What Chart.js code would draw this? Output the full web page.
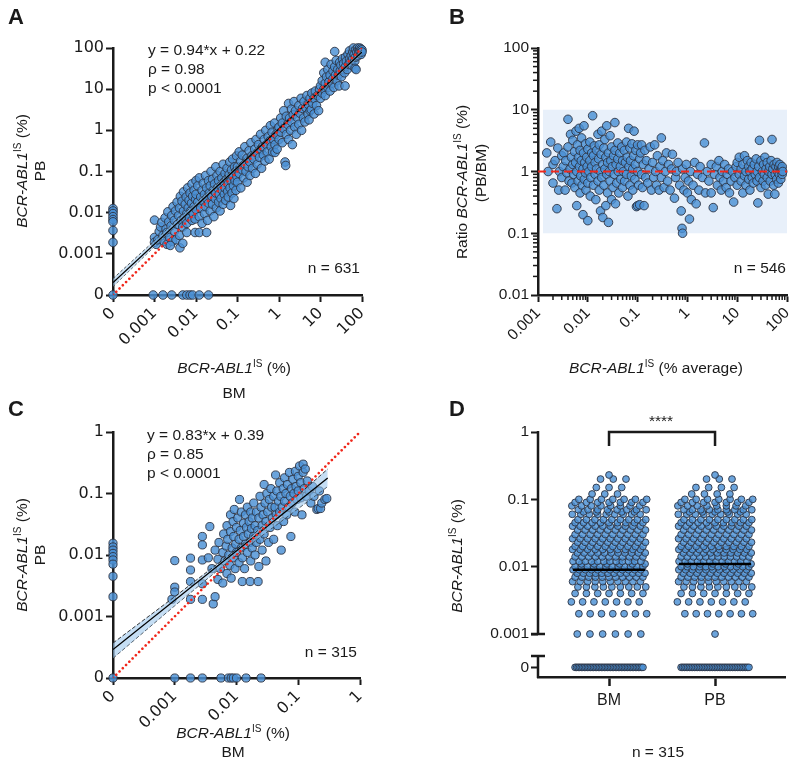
<!DOCTYPE html>
<html>
<head>
<meta charset="utf-8">
<script src="https://cdn.jsdelivr.net/npm/chart.js@4.4.1/dist/chart.umd.min.js"></script>
<style>
  body { margin:0; width:800px; height:766px; position:relative; background:#fff; overflow:hidden;
         font-family:"Liberation Sans", Arial, sans-serif; color:#1a1a1a; }
  canvas { position:absolute; }
  .lbl { position:absolute; white-space:nowrap; font-size:15.5px; line-height:1; }
  .c { transform:translate(-50%,-50%); }
  .l { transform:translate(0,-50%); }
  .r { transform:translate(-100%,-50%); }
  .v { transform:translate(-50%,-50%) rotate(-90deg); }
  .panel { font-weight:bold; font-size:22px; }
  sup { font-size:10px; vertical-align:6px; line-height:0; }
</style>
</head>
<body>
<canvas id="cA" width="400" height="383" style="left:0;top:0"></canvas>
<canvas id="cB" width="400" height="383" style="left:400px;top:0"></canvas>
<canvas id="cC" width="400" height="383" style="left:0;top:383px"></canvas>
<canvas id="cD" width="400" height="383" style="left:400px;top:383px"></canvas>

<!-- panel A texts -->
<div class="lbl c panel" style="left:16px;top:17px">A</div>
<div class="lbl v" style="left:22px;top:171px"><i>BCR-ABL1</i><sup>IS</sup> (%)</div>
<div class="lbl v" style="left:40px;top:171px">PB</div>
<div class="lbl c" style="left:234px;top:368px"><i>BCR-ABL1</i><sup>IS</sup> (%)</div>
<div class="lbl c" style="left:234px;top:393px">BM</div>
<div class="lbl l" style="left:148px;top:50px">y = 0.94*x + 0.22</div>
<div class="lbl l" style="left:148px;top:69px">ρ = 0.98</div>
<div class="lbl l" style="left:148px;top:88px">p &lt; 0.0001</div>
<div class="lbl r" style="left:360px;top:268px">n = 631</div>

<!-- panel B texts -->
<div class="lbl c panel" style="left:457px;top:17px">B</div>
<div class="lbl v" style="left:462px;top:182px">Ratio <i>BCR-ABL1</i><sup>IS</sup> (%)</div>
<div class="lbl v" style="left:481px;top:173px">(PB/BM)</div>
<div class="lbl c" style="left:656px;top:368px"><i>BCR-ABL1</i><sup>IS</sup> (% average)</div>
<div class="lbl r" style="left:786px;top:268px">n = 546</div>

<!-- panel C texts -->
<div class="lbl c panel" style="left:16px;top:409px">C</div>
<div class="lbl v" style="left:22px;top:555px"><i>BCR-ABL1</i><sup>IS</sup> (%)</div>
<div class="lbl v" style="left:40px;top:555px">PB</div>
<div class="lbl c" style="left:233px;top:733px"><i>BCR-ABL1</i><sup>IS</sup> (%)</div>
<div class="lbl c" style="left:233px;top:752px">BM</div>
<div class="lbl l" style="left:147px;top:435px">y = 0.83*x + 0.39</div>
<div class="lbl l" style="left:147px;top:454px">ρ = 0.85</div>
<div class="lbl l" style="left:147px;top:473px">p &lt; 0.0001</div>
<div class="lbl r" style="left:357px;top:652px">n = 315</div>

<!-- panel D texts -->
<div class="lbl c panel" style="left:457px;top:409px">D</div>
<div class="lbl v" style="left:457px;top:556px"><i>BCR-ABL1</i><sup>IS</sup> (%)</div>
<div class="lbl c" style="left:661px;top:421px">****</div>
<div class="lbl c" style="left:658px;top:752px">n = 315</div>

<script>
// ---------- data ----------
// A: BCR-ABL1 IS (%) in BM (x) vs PB (y); 0 = undetectable
const aPairs = [
  [0,0.0126],[0,0.011],[0,0.0095],[0,0.008],[0,0.0068],[0,0.006],[0,0.0037],[0,0.0019],[0,0],
  [0.00093,0],[0.0016,0],[0.0026,0],[0.0048,0],[0.006,0],[0.0072,0],[0.0083,0],[0.012,0],[0.02,0],
  [0.001,0.0066],[0.001,0.0025],[0.001,0.0019],[0.0011,0.0017],[0.0012,0.0022],[0.0013,0.0035],[0.0014,0.0045],
  [0.0015,0.0058],[0.0016,0.0028],[0.0017,0.002],[0.0018,0.0075],[0.0019,0.004],[0.002,0.0033],[0.002,0.0017],
  [0.0021,0.0105],[0.0022,0.006],[0.0023,0.0025],[0.0025,0.0048],[0.0026,0.0085],[0.0027,0.002],[0.0028,0.014],
  [0.003,0.0035],[0.003,0.0065],[0.0032,0.011],[0.0033,0.0022],[0.0035,0.018],[0.0036,0.0052],[0.0038,0.0085],
  [0.004,0.013],[0.004,0.0028],[0.0042,0.025],[0.0044,0.0065],[0.0046,0.019],[0.0048,0.0045],[0.005,0.032],
  [0.005,0.011],[0.0052,0.0075],[0.0055,0.016],[0.0058,0.024],[0.006,0.0095],[0.006,0.0055],[0.0063,0.04],
  [0.0065,0.013],[0.0068,0.02],[0.007,0.0075],[0.0072,0.03],[0.0075,0.011],[0.0078,0.017],[0.008,0.05],
  [0.008,0.0065],[0.0083,0.025],[0.0086,0.0095],[0.009,0.014],[0.009,0.035],[0.0095,0.007],[0.0098,0.021],
  [0.0041,0.0014],[0.0048,0.0018],[0.0024,0.0016],[0.006,0.0033],[0.0095,0.0033],[0.012,0.0033],[0.018,0.0033],
  [0.01,0.06],[0.01,0.012],[0.01,0.028],[0.011,0.018],[0.011,0.045],[0.012,0.008],[0.012,0.07],[0.013,0.024],
  [0.013,0.013],[0.014,0.035],[0.014,0.0055],[0.015,0.052],[0.015,0.019],[0.016,0.0095],[0.016,0.028],
  [0.017,0.08],[0.017,0.014],[0.018,0.04],[0.018,0.022],[0.019,0.0065],[0.02,0.017],[0.02,0.06],[0.021,0.03],
  [0.022,0.011],[0.022,0.045],[0.023,0.1],[0.024,0.025],[0.025,0.016],[0.025,0.065],[0.026,0.035],[0.027,0.008],
  [0.028,0.05],[0.029,0.022],[0.03,0.13],[0.03,0.03],[0.031,0.013],[0.032,0.08],[0.033,0.04],[0.035,0.018],
  [0.035,0.06],[0.036,0.028],[0.038,0.1],[0.038,0.011],[0.04,0.045],[0.04,0.022],[0.042,0.07],[0.043,0.035],
  [0.045,0.15],[0.045,0.016],[0.047,0.055],[0.048,0.028],[0.05,0.09],[0.05,0.04],[0.052,0.02],[0.055,0.065],
  [0.056,0.12],[0.058,0.033],[0.06,0.05],[0.06,0.024],[0.063,0.085],[0.065,0.17],[0.066,0.04],[0.068,0.015],
  [0.07,0.06],[0.072,0.11],[0.074,0.03],[0.076,0.2],[0.078,0.075],[0.08,0.045],[0.082,0.022],[0.085,0.13],
  [0.087,0.06],[0.09,0.1],[0.092,0.035],[0.095,0.24],[0.097,0.075],
  [0.1,0.13],[0.1,0.055],[0.11,0.3],[0.11,0.09],[0.12,0.18],[0.12,0.04],[0.13,0.11],[0.13,0.25],[0.14,0.07],
  [0.15,0.15],[0.15,0.4],[0.16,0.1],[0.17,0.21],[0.17,0.055],[0.18,0.13],[0.19,0.32],[0.2,0.17],[0.2,0.08],
  [0.21,0.5],[0.22,0.24],[0.23,0.12],[0.25,0.2],[0.26,0.35],[0.27,0.09],[0.28,0.6],[0.3,0.28],[0.3,0.15],
  [0.32,0.45],[0.34,0.22],[0.36,0.8],[0.37,0.35],[0.38,0.12],[0.4,0.4],[0.42,0.25],[0.44,0.6],[0.46,0.18],
  [0.48,1.0],[0.5,0.45],[0.52,0.3],[0.55,0.7],[0.58,0.2],[0.6,0.55],[0.62,1.3],[0.65,0.4],[0.68,0.9],[0.7,0.3],
  [0.74,0.6],[0.78,1.5],[0.8,0.45],[0.8,0.29],[0.85,0.8],[0.9,0.35],[0.95,1.1],
  [1,1.2],[1,0.6],[1.1,2.0],[1.1,0.9],[1.2,1.5],[1.2,0.5],[1.3,3.0],[1.3,1.1],[1.4,0.17],[1.45,0.14],[1.5,2.2],
  [1.5,0.8],[1.6,1.4],[1.7,4.5],[1.7,0.6],[1.8,2.0],[1.9,1.0],[2,3.3],[2,1.6],[2.1,0.45],[2.2,2.4],[2.3,5.0],
  [2.4,1.2],[2.5,3.0],[2.6,0.8],[2.8,2.0],[3,4.0],[3,1.4],[3.2,2.6],[3.4,6.0],[3.5,1.0],[3.7,3.4],[3.9,2.0],
  [4,5.0],[4.2,1.6],[4.5,3.5],[4.7,7.0],[5,2.5],[5,4.3],[5.3,1.8],[5.6,3.0],[5.6,6],[6,3.2],[6.2,8],[6.5,4.5],
  [7,2.5],[7,6],[7.5,9],[8,4],[8.5,7],[9,3],[9.5,10],
  [10,6],[10,12],[11,8],[11,16],[12,10],[12,25],[13,7],[13,14],[13,45],[14,20],[15,11],[15,30],[16,15],[17,9],
  [17,22],[18,40],[19,14],[20,18],[20,28],[21,11],[22,35],[22,82],[23,22],[24,50],[25,16],[26,30],[27,22],
  [28,12],[29,45],[30,28],[31,38],[32,20],[34,55],[35,30],[36,42],[38,25],[39,12],[40,60],[40,35],[42,48],
  [44,30],[46,70],[48,40],[50,55],[50,85],[52,45],[55,65],[57,38],[60,80],[60,55],[62,100],[65,70],[67,48],
  [68,32],[70,90],[70,60],[72,30],[75,80],[78,100],[80,65],[82,90],[85,75],[88,100],[90,85],[95,70],[95,95],
  [100,90],[100,80]
];
const aTicks = [0.0001, 0.001, 0.01, 0.1, 1, 10, 100];
const aTickLabels = ['0', '0.001', '0.01', '0.1', '1', '10', '100'];
const aFitX = [0.0001, 100];
const aFitY = [0.0002, 80];
const aBandX = [0.0001, 0.01, 1, 100];
const aBandHi = [0.00025, 0.0175, 1.14, 90];
const aBandLo = [0.00016, 0.0142, 1.04, 70];

// B: ratio PB/BM vs average level
const bPairs = [
  [0.0015,2.0],[0.0016,1.0],[0.0018,3.0],[0.002,0.65],[0.002,1.3],[0.0022,1.5],[0.0024,0.25],[0.0025,2.4],
  [0.0026,0.5],[0.0027,1.0],[0.003,1.8],[0.003,0.8],[0.0032,1.2],[0.0033,2.0],[0.0035,0.5],[0.0036,1.5],
  [0.0038,0.95],[0.004,7.0],[0.004,2.5],[0.0042,0.7],[0.0044,1.1],[0.0045,4.0],[0.0047,1.7],[0.0048,0.65],
  [0.005,1.3],[0.005,3.2],
  [0.0052,0.9],[0.0054,2.1],[0.0055,0.55],[0.0057,1.4],[0.0058,4.5],[0.006,1.0],[0.006,0.28],[0.0062,2.7],
  [0.0064,0.7],[0.0065,1.7],[0.0067,5.0],[0.0068,1.2],[0.007,0.45],[0.007,2.2],[0.0072,0.85],[0.0074,1.5],
  [0.0075,3.5],[0.0077,0.6],[0.008,1.1],[0.008,0.2],[0.0082,2.0],[0.0084,5.5],[0.0085,0.75],[0.0087,1.4],
  [0.009,2.8],[0.009,0.95],[0.0092,0.5],[0.0095,1.7],[0.0097,1.2],[0.01,0.65],[0.01,2.3],[0.01,0.16],
  [0.0105,1.0],[0.011,3.0],[0.011,1.5],[0.0112,0.4],[0.0115,0.8],[0.012,2.0],[0.012,1.2],[0.0125,8.0],
  [0.013,0.6],[0.013,1.8],[0.0135,2.6],[0.014,0.9],[0.014,1.4],[0.0145,0.35],[0.015,2.2],[0.015,1.1],
  [0.016,0.7],[0.016,4.0],[0.0165,1.6],[0.017,0.5],[0.017,2.7],[0.018,1.0],[0.018,0.23],[0.0185,1.9],
  [0.019,4.5],[0.019,0.8],[0.02,1.3],[0.02,0.18],[0.021,2.4],[0.021,0.6],[0.022,1.1],[0.022,3.3],[0.023,0.28],
  [0.023,1.7],[0.024,0.9],[0.024,5.5],[0.025,1.4],[0.025,0.45],[0.026,2.0],[0.026,0.15],[0.027,1.0],
  [0.028,3.8],[0.028,0.7],[0.029,1.5],[0.03,0.35],[0.03,2.5],[0.031,1.2],[0.032,0.55],[0.033,1.8],[0.034,0.9],
  [0.035,6.2],[0.035,2.2],[0.036,0.3],[0.037,1.3],[0.038,0.65],[0.04,1.6],[0.04,2.9],[0.041,1.0],[0.042,0.45],
  [0.044,2.0],[0.045,1.2],[0.046,0.75],[0.048,2.5],[0.05,1.5],[0.05,0.55],
  [0.052,1.0],[0.054,2.2],[0.055,0.7],[0.057,1.4],[0.06,3.0],[0.06,0.9],[0.062,1.7],[0.064,0.4],[0.066,5.0],
  [0.067,1.2],[0.07,2.4],[0.07,0.6],[0.072,1.5],[0.075,0.85],[0.077,2.8],[0.08,1.1],[0.08,0.5],[0.083,1.8],
  [0.085,4.5],[0.088,0.75],[0.09,1.3],[0.092,2.2],[0.095,0.27],[0.1,1.0],[0.1,2.7],[0.1,0.28],[0.105,0.6],
  [0.11,1.6],[0.11,0.29],[0.115,2.0],[0.12,0.9],[0.12,2.7],[0.125,0.55],[0.13,1.3],[0.135,0.28],[0.14,2.2],
  [0.145,0.8],[0.15,1.5],[0.16,0.65],[0.17,1.1],[0.18,2.5],[0.19,0.5],[0.2,1.4],[0.21,0.8],[0.22,2.7],
  [0.23,1.0],[0.24,0.6],[0.25,1.8],[0.27,0.5],[0.28,1.2],[0.3,3.5],[0.3,0.8],
  [0.32,1.5],[0.34,0.55],[0.36,1.0],[0.38,2.0],[0.4,0.7],[0.42,1.3],[0.45,0.5],[0.48,1.1],[0.5,1.9],
  [0.55,0.37],[0.58,0.8],[0.6,1.0],[0.65,1.4],[0.7,0.6],[0.75,0.23],[0.78,0.12],[0.8,0.1],[0.8,1.1],
  [0.85,0.5],[0.9,0.8],[0.95,1.3],[1.0,0.45],[1.05,0.7],[1.1,0.17],[1.15,1.0],[1.2,0.35],[1.3,0.6],[1.4,1.4],
  [1.5,0.3],[1.6,0.9],[1.7,0.5],[1.8,1.2],[2.0,0.8],[2.2,2.9],[2.3,0.45],[2.5,1.0],[2.7,0.7],[3.0,0.45],[3.0,1.3],
  [3.3,0.26],[3.5,0.9],[3.8,1.2],[4.0,0.6],[4.3,1.5],[4.5,0.8],[4.8,0.5],[5,1.0],[5.3,0.7],[5.6,1.3],[6,0.55],
  [6.3,0.9],[6.7,1.1],[7,0.45],[7.5,0.7],[8,1.0],[8.5,0.32],[9,0.8],[9.5,1.2],
  [10,0.6],[10,1.4],[11,0.9],[11,1.7],[12,0.7],[12,1.1],[13,0.45],[13,1.3],[14,0.85],[14,1.8],[15,1.0],
  [15,0.6],[16,1.5],[17,0.75],[17,1.2],[18,0.5],[18,1.0],[19,1.4],[20,0.8],[20,1.1],[21,0.65],[22,1.3],
  [23,0.9],[24,1.6],[25,0.7],[25,1.0],[26,0.31],[27,1.2],[28,3.2],[28,0.8],[30,1.5],[30,0.55],[32,1.0],
  [33,0.7],[34,1.3],[35,0.9],[36,1.7],[37,0.6],[38,1.1],[40,0.8],[40,1.4],[42,0.43],[43,1.0],[45,1.2],
  [46,0.7],[48,1.5],[50,0.9],[50,3.3],[52,1.1],[54,0.6],[55,1.3],[57,0.43],[58,0.9],[60,1.2],[62,0.75],
  [63,1.4],[65,1.0],[67,0.65],[68,1.2],[70,0.9],[72,1.3],[74,1.05],[75,0.75],[78,1.1],[80,1.2],[80,0.9],[82,1.0]
];
const bXTicks = [0.001, 0.01, 0.1, 1, 10, 100];
const bXLabels = ['0.001', '0.01', '0.1', '1', '10', '100'];
const bYTicks = [0.01, 0.1, 1, 10, 100];
const bYLabels = ['0.01', '0.1', '1', '10', '100'];
const bRefLine = 1;
const bBandX = [0.00125, 100];
const bBandLo = 0.1;
const bBandHi = 10;

// C: BM vs PB, low-level subgroup
const cPairs = [
  [0,0.0155],[0,0.0135],[0,0.012],[0,0.0106],[0,0.0094],[0,0.0083],[0,0.0071],[0,0.0045],[0,0.0021],[0,0],
  [0.001,0],[0.0018,0],[0.0028,0],[0.0056,0],[0.0074,0],[0.0082,0],[0.0089,0],[0.01,0],[0.0143,0],[0.025,0],
  [0.0009,0.0019],[0.001,0.0081],[0.001,0.003],[0.001,0.0025],[0.0018,0.0089],[0.0018,0.0057],[0.0018,0.0037],
  [0.0018,0.0019],[0.0028,0.02],[0.0028,0.0146],[0.0028,0.0083],[0.0028,0.0034],[0.0028,0.0019],[0.0037,0.029],
  [0.0042,0.0016],[0.0045,0.0021],
  [0.0035,0.009],[0.004,0.006],[0.0045,0.012],[0.005,0.004],[0.005,0.0085],[0.0052,0.016],[0.0055,0.006],
  [0.006,0.011],[0.006,0.0035],[0.0062,0.022],[0.0065,0.008],[0.0068,0.014],[0.007,0.005],[0.007,0.03],
  [0.0072,0.018],[0.0075,0.01],[0.0078,0.0068],[0.008,0.045],[0.008,0.024],[0.0082,0.0042],[0.0085,0.013],
  [0.0088,0.035],[0.009,0.009],[0.009,0.02],[0.0092,0.055],[0.0095,0.006],[0.0097,0.015],[0.01,0.028],
  [0.01,0.011],[0.0105,0.04],[0.011,0.0075],[0.011,0.018],[0.0112,0.08],[0.0115,0.025],[0.012,0.013],
  [0.012,0.05],[0.0124,0.0037],[0.0125,0.009],[0.013,0.033],[0.013,0.02],[0.0135,0.006],[0.014,0.015],
  [0.014,0.045],[0.0145,0.028],[0.015,0.011],[0.015,0.06],[0.0155,0.022],[0.016,0.035],[0.0166,0.0037],
  [0.0165,0.016],[0.017,0.008],[0.017,0.05],[0.0175,0.027],[0.018,0.013],[0.018,0.04],[0.019,0.02],
  [0.019,0.07],[0.02,0.03],[0.02,0.01],[0.021,0.016],[0.021,0.05],[0.0224,0.0037],[0.022,0.025],[0.023,0.04],
  [0.023,0.0065],[0.024,0.09],[0.024,0.018],[0.025,0.06],[0.026,0.03],[0.026,0.012],[0.027,0.045],
  [0.028,0.022],[0.028,0.14],[0.029,0.07],[0.03,0.035],[0.03,0.008],[0.031,0.1],[0.032,0.05],[0.033,0.016],
  [0.034,0.08],[0.035,0.028],[0.036,0.12],[0.037,0.06],[0.038,0.04],[0.04,0.09],[0.04,0.018],[0.042,0.06],
  [0.043,0.2],[0.044,0.045],[0.045,0.11],[0.046,0.03],[0.048,0.075],[0.05,0.15],[0.05,0.05],[0.052,0.09],
  [0.053,0.012],[0.055,0.06],[0.057,0.12],[0.058,0.035],[0.06,0.18],[0.06,0.075],[0.063,0.1],[0.065,0.045],
  [0.067,0.14],[0.07,0.06],[0.072,0.22],[0.074,0.09],[0.076,0.02],[0.078,0.12],[0.08,0.07],[0.082,0.17],
  [0.085,0.1],[0.088,0.05],[0.09,0.23],[0.092,0.13],[0.095,0.08],[0.1,0.19],[0.1,0.11],[0.105,0.28],
  [0.11,0.15],[0.11,0.085],[0.115,0.045],[0.12,0.3],[0.12,0.22],[0.125,0.12],[0.13,0.25],[0.135,0.09],
  [0.14,0.16],[0.15,0.11],[0.16,0.07],[0.17,0.13],[0.18,0.09],[0.2,0.055],[0.21,0.057],[0.22,0.11],
  [0.23,0.057],[0.24,0.07],[0.27,0.08],[0.29,0.083]
];
const cTicks = [0.0001, 0.001, 0.01, 0.1, 1];
const cTickLabels = ['0', '0.001', '0.01', '0.1', '1'];
const cFitX = [0.0001, 0.3];
const cFitY = [0.00029, 0.178];
const cBandX = [0.0001, 0.001, 0.01, 0.3];
const cBandHi = [0.00037, 0.0021, 0.0124, 0.25];
const cBandLo = [0.00021, 0.0015, 0.0101, 0.13];

// D: BM vs PB levels (value, number of samples)
const dLevels = [0, 0.001, 0.002, 0.003, 0.004, 0.005, 0.006, 0.007, 0.008, 0.009, 0.01, 0.011, 0.012, 0.014,
  0.016, 0.018, 0.02, 0.023, 0.026, 0.03, 0.035, 0.04, 0.045, 0.05, 0.06, 0.065, 0.07, 0.08, 0.09, 0.1,
  0.12, 0.15, 0.2, 0.23];
const dCountsBM = [45, 6, 7, 7, 7, 9, 10, 11, 12, 12, 12, 6, 12, 11, 11, 10, 10, 10, 10, 10, 10, 10, 9, 9, 9, 5,
  8, 8, 7, 7, 3, 3, 3, 1];
const dCountsPB = [42, 1, 7, 7, 7, 9, 10, 11, 11, 11, 12, 6, 12, 12, 11, 11, 10, 10, 10, 10, 10, 10, 9, 9, 9, 5,
  9, 8, 7, 7, 4, 4, 3, 1];
const dGroups = ['BM', 'PB'];
const dMedians = [0.009, 0.011];
const dYTicks = [1, 0.1, 0.01, 0.001];
const dYLabels = ['1', '0.1', '0.01', '0.001'];

// ---------- style ----------
const INK = '#1a1a1a';
const DOT_FILL = 'rgba(74,144,212,0.82)';
const DOT_EDGE = 'rgba(45,52,68,0.9)';
const RED = '#f0281c';
const FONT_WIDE = { family: 'DejaVu Sans', size: 16 };
const FONT = { family: 'Liberation Sans', size: 15.5 };
const ZERO_A = 0.0001;    // where "0" sits on A / C axes
const ZERO_D = 0.00032;   // where "0" sits below the break in D
const D_BREAK = 0.00047;  // top of the lower axis segment in D
const D_MIN = 0.00023;

Chart.defaults.font.family = 'Liberation Sans';

function fixBox(dim, size) {
  return s => {
    s[dim] = size;
    s.paddingLeft = s.paddingRight = s.paddingTop = s.paddingBottom = 0;
  };
}

function logAxis(o) {
  const bottom = o.pos === 'bottom';
  return {
    type: 'logarithmic', position: o.pos, min: o.min, max: o.max,
    afterBuildTicks: s => { s.ticks = o.ticks.map(v => ({ value: v })); },
    afterFit: fixBox(bottom ? 'height' : 'width', o.size),
    grid: { drawOnChartArea: false, drawTicks: true, tickLength: 7, tickWidth: 2, tickColor: o.tickColor || INK },
    border: { display: o.border !== false, color: INK, width: 2.5 },
    ticks: {
      autoSkip: false, padding: 2, color: INK, font: o.font,
      maxRotation: bottom ? 45 : 0, minRotation: bottom ? 45 : 0,
      callback: (v, i) => o.labels[i]
    }
  };
}

function dots(data, r) {
  return {
    type: 'scatter', data, order: 5, clip: false,
    pointRadius: r, pointHoverRadius: r, pointBorderWidth: 1,
    backgroundColor: DOT_FILL, borderColor: DOT_EDGE
  };
}

function line(xs, ys, style) {
  return Object.assign({
    type: 'line', data: xs.map((x, i) => ({ x, y: ys[i] })),
    pointRadius: 0, fill: false, tension: 0, order: 1
  }, style);
}

function base(padTop, padRight) {
  return {
    responsive: false, animation: false, devicePixelRatio: 1,
    layout: { padding: { top: padTop, right: padRight, left: 0, bottom: 0 } },
    plugins: { legend: { display: false }, tooltip: { enabled: false } },
    events: []
  };
}

// minor log ticks (panel B)
const minorTicks = {
  id: 'minorTicks',
  afterDraw(chart) {
    const { ctx } = chart;
    ctx.save();
    ctx.strokeStyle = INK;
    ctx.lineWidth = 1.5;
    ['x', 'y'].forEach(id => {
      const s = chart.scales[id];
      const d0 = Math.round(Math.log10(s.min)), d1 = Math.round(Math.log10(s.max));
      for (let d = d0; d < d1; d++) {
        for (let m = 2; m <= 9; m++) {
          const p = s.getPixelForValue(m * Math.pow(10, d));
          ctx.beginPath();
          if (id === 'x') { ctx.moveTo(p, s.top); ctx.lineTo(p, s.top + 5); }
          else { ctx.moveTo(s.right, p); ctx.lineTo(s.right - 5, p); }
          ctx.stroke();
        }
      }
    });
    ctx.restore();
  }
};

// broken y axis (panel D)
const brokenAxis = {
  id: 'brokenAxis',
  beforeDatasetsDraw(chart) {
    const { ctx, chartArea: a } = chart;
    const y = chart.scales.y;
    const x0 = a.left;
    const pTop = y.getPixelForValue(dYTicks[0]);
    const pLow = y.getPixelForValue(dYTicks[dYTicks.length - 1]);
    const pBrk = y.getPixelForValue(D_BREAK);
    ctx.save();
    ctx.strokeStyle = INK;
    ctx.lineWidth = 2.5;
    ctx.beginPath();
    ctx.moveTo(x0, pTop - 1); ctx.lineTo(x0, pLow);
    ctx.moveTo(x0 - 7, pLow); ctx.lineTo(x0 + 7, pLow);
    ctx.moveTo(x0 - 7, pBrk); ctx.lineTo(x0 + 7, pBrk);
    ctx.moveTo(x0, pBrk); ctx.lineTo(x0, a.bottom + 1);
    ctx.stroke();
    ctx.restore();
  }
};

const toPts = (pairs, zero) => pairs.map(([x, y]) => ({ x: x || zero, y: y || zero }));

// ---------- A ----------
new Chart(document.getElementById('cA'), {
  type: 'scatter',
  data: {
    datasets: [
      line([ZERO_A, 100], [ZERO_A, 100], { borderColor: RED, borderWidth: 2.6, borderDash: [0.01, 4.6], borderCapStyle: 'round', order: 0 }),
      line(aFitX, aFitY, { borderColor: '#000', borderWidth: 1.3, order: 1 }),
      line(aBandX, aBandHi, { borderColor: '#333', borderWidth: 0.8, borderDash: [3, 2], fill: '+1', backgroundColor: 'rgba(150,195,235,0.5)', order: 2 }),
      line(aBandX, aBandLo, { borderColor: '#333', borderWidth: 0.8, borderDash: [3, 2], order: 2 }),
      dots(toPts(aPairs, ZERO_A), 4.3)
    ]
  },
  options: Object.assign(base(48, 38), {
    scales: {
      x: logAxis({ pos: 'bottom', min: ZERO_A, max: 100, ticks: aTicks, labels: aTickLabels, size: 88, font: FONT_WIDE }),
      y: logAxis({ pos: 'left', min: ZERO_A, max: 100, ticks: aTicks, labels: aTickLabels, size: 113, font: FONT_WIDE })
    }
  })
});

// ---------- B ----------
new Chart(document.getElementById('cB'), {
  type: 'scatter',
  data: {
    datasets: [
      line([bXTicks[0], 100], [bRefLine, bRefLine], { borderColor: RED, borderWidth: 2.2, borderDash: [8, 5], order: 0 }),
      dots(toPts(bPairs, 0.001), 4.3),
      line(bBandX, [bBandHi, bBandHi], { borderWidth: 0, fill: '+1', backgroundColor: '#e8f0fa', order: 9 }),
      line(bBandX, [bBandLo, bBandLo], { borderWidth: 0, order: 9 })
    ]
  },
  options: Object.assign(base(48, 13), {
    scales: {
      x: logAxis({ pos: 'bottom', min: 0.001, max: 100, ticks: bXTicks, labels: bXLabels, size: 88, font: FONT }),
      y: logAxis({ pos: 'left', min: 0.01, max: 100, ticks: bYTicks, labels: bYLabels, size: 138, font: FONT })
    }
  }),
  plugins: [minorTicks]
});

// ---------- C ----------
new Chart(document.getElementById('cC'), {
  type: 'scatter',
  data: {
    datasets: [
      line([ZERO_A, 1], [ZERO_A, 1], { borderColor: RED, borderWidth: 2.6, borderDash: [0.01, 4.6], borderCapStyle: 'round', order: 0 }),
      line(cFitX, cFitY, { borderColor: '#000', borderWidth: 1.3, order: 1 }),
      line(cBandX, cBandHi, { borderColor: '#222', borderWidth: 0.9, borderDash: [4, 2], fill: '+1', backgroundColor: 'rgba(150,195,235,0.55)', order: 2 }),
      line(cBandX, cBandLo, { borderColor: '#222', borderWidth: 0.9, borderDash: [4, 2], order: 2 }),
      dots(toPts(cPairs, ZERO_A), 4.1)
    ]
  },
  options: Object.assign(base(49, 40), {
    scales: {
      x: logAxis({ pos: 'bottom', min: ZERO_A, max: 1, ticks: cTicks, labels: cTickLabels, size: 88, font: FONT_WIDE }),
      y: logAxis({ pos: 'left', min: ZERO_A, max: 1, ticks: cTicks, labels: cTickLabels, size: 113, font: FONT_WIDE })
    }
  })
});

// ---------- D ----------
// column scatter: points of one level share a row spread across the column;
// neighbouring rows are shifted a little so the columns do not form stripes
function swarm(counts, center) {
  const pts = [];
  dLevels.forEach((v, i) => {
    const n = counts[i];
    const step = n > 1 ? Math.min(0.12, 0.64 / (n - 1)) : 0;
    const shift = n > 2 && v !== 0 ? ((i % 3) - 1) * step / 3 : 0;
    for (let k = 0; k < n; k++) {
      pts.push({ x: center + (k - (n - 1) / 2) * step + shift, y: v === 0 ? ZERO_D : v });
    }
  });
  return pts;
}

const dYAll = [ZERO_D].concat(dYTicks);
const dYAllLabels = ['0'].concat(dYLabels);

new Chart(document.getElementById('cD'), {
  type: 'scatter',
  data: {
    datasets: [
      line([1 - 0.34, 1 + 0.34], [dMedians[0], dMedians[0]], { borderColor: '#000', borderWidth: 2.5, order: 0 }),
      line([2 - 0.34, 2 + 0.34], [dMedians[1], dMedians[1]], { borderColor: '#000', borderWidth: 2.5, order: 0 }),
      line([1, 1, 2, 2], [0.62, 1, 1, 0.62], { borderColor: INK, borderWidth: 2.5, clip: false, order: 0 }),
      dots(swarm(dCountsBM, 1), 3.4),
      dots(swarm(dCountsPB, 2), 3.4)
    ]
  },
  options: Object.assign(base(49, 15), {
    scales: {
      x: {
        type: 'linear', position: 'bottom', min: 0.33, max: 2.66,
        afterBuildTicks: s => { s.ticks = [1, 2].map(v => ({ value: v })); },
        afterFit: fixBox('height', 89),
        grid: { drawOnChartArea: false, drawTicks: true, tickLength: 9, tickWidth: 2.5, tickColor: INK },
        border: { display: true, color: INK, width: 2.5 },
        ticks: { autoSkip: false, padding: 5, color: INK, font: { family: 'Liberation Sans', size: 16 },
                 maxRotation: 0, minRotation: 0, callback: (v, i) => dGroups[i] }
      },
      y: logAxis({ pos: 'left', min: D_MIN, max: 1, ticks: dYAll, labels: dYAllLabels, size: 138, font: FONT, border: false })
    }
  }),
  plugins: [brokenAxis]
});
</script>
</body>
</html>
